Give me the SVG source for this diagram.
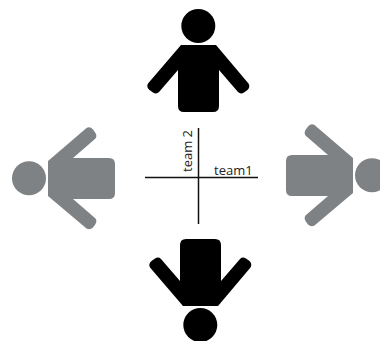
<svg xmlns="http://www.w3.org/2000/svg" width="380" height="341" viewBox="0 0 380 341">
<style>
.blk{fill:#000}
.gry{fill:#7f8284}
.ax{stroke:#111;stroke-width:1.5;fill:none}
.lbl{font-family:"Open Sans","Liberation Sans",sans-serif;font-size:13px;fill:#222}
</style>
<defs>
<g id="person">
<circle cx="198.3" cy="26" r="17"/>
<path d="M181,45H216L248.500,83.500Q250.500,87 247.500,90L244,92.500Q240.500,94.500 238,92L219,70V106Q219,112 213,112H184Q178,112 178,106V70L159,92Q156.500,94.500 153,92.500L149.500,90Q146,87 148,83.500Z"/>
</g>
</defs>
<rect width="380" height="341" fill="#fff"/>
<g id="person-top" class="blk"><use href="#person"/></g>
<g id="person-bottom" class="blk"><use href="#person" transform="matrix(1 0 0 -1 2 351)"/></g>
<g id="person-left" class="gry"><use href="#person" transform="matrix(0 1 1 0 3 -20)"/></g>
<g id="person-right" class="gry"><use href="#person" transform="matrix(0 1 -1 0 398 -23)"/></g>
<g id="connectors">
<line class="ax" x1="145" y1="177.500" x2="258" y2="177.500"/>
<line class="ax" x1="198.500" y1="128" x2="198.500" y2="224"/>
</g>
<text class="lbl" x="214" y="174.500">team1</text>
<text class="lbl" transform="translate(192 172) rotate(-90)">team 2</text>
</svg>
